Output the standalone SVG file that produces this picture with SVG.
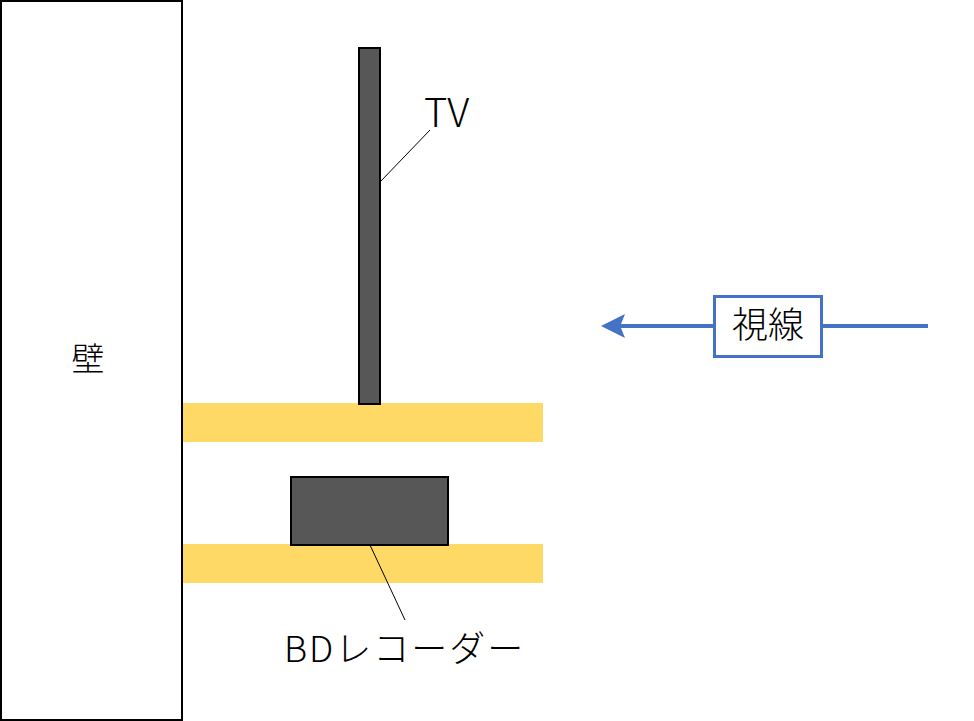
<svg xmlns="http://www.w3.org/2000/svg" width="974" height="721" viewBox="0 0 974 721">
<style>
.t{font-family:"Noto Sans CJK JP","Noto Sans",sans-serif;font-weight:300;fill:#000}
.dark{fill:#575757;stroke:#000;stroke-width:2}
.shelf{fill:#FFD966}
.lead{stroke:#000;stroke-width:1;fill:none}
</style>
<defs>
<marker id="ah" markerWidth="6" markerHeight="6" refX="5" refY="3" orient="auto" markerUnits="strokeWidth">
<path d="M0,0 L6,3 L0,6 L1.2,3 Z" fill="#4472C4"/>
</marker>
</defs>
<rect width="974" height="721" fill="#fff"/>
<g id="wall">
<rect x="1" y="1" width="181" height="719" fill="#fff" stroke="#000" stroke-width="2"/>
<text class="t" x="88" y="371" font-size="33" text-anchor="middle">壁</text>
</g>
<g id="shelf-top"><rect class="shelf" x="183" y="403" width="360" height="39"/></g>
<g id="shelf-bottom"><rect class="shelf" x="183" y="544" width="360" height="39"/></g>
<g id="tv"><rect class="dark" x="359" y="48" width="21" height="356"/></g>
<g id="bd"><rect class="dark" x="291" y="477" width="157" height="68"/></g>
<g id="connectors">
<line class="lead" x1="380" y1="182" x2="430" y2="130"/>
<line class="lead" x1="370" y1="545" x2="405" y2="620"/>
<line x1="928" y1="326" x2="605" y2="326" stroke="#4472C4" stroke-width="4" marker-end="url(#ah)"/>
</g>
<g id="tv-label"><text class="t" x="424" y="127" font-size="40">TV</text></g>
<g id="bd-label"><text class="t" x="284" y="662" font-size="36" letter-spacing="2">BDレコーダー</text></g>
<g id="sight">
<rect x="714.5" y="296.5" width="107" height="60" fill="#fff" stroke="#4472C4" stroke-width="3"/>
<text class="t" x="768" y="338" font-size="36" text-anchor="middle">視線</text>
</g>
</svg>
